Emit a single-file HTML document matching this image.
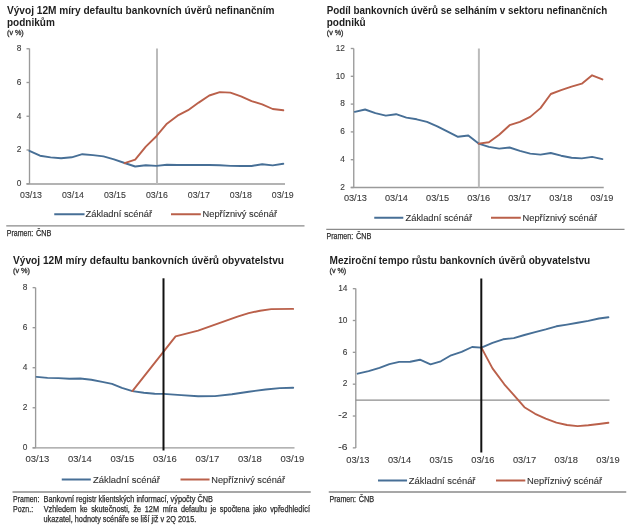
<!DOCTYPE html>
<html><head><meta charset="utf-8"><style>
html,body{margin:0;padding:0;background:#fff;width:640px;height:528px;overflow:hidden}
svg{display:block;font-family:"Liberation Sans",sans-serif;filter:blur(0.3px)}
</style></head><body>
<svg width="640" height="528" viewBox="0 0 640 528">
<rect width="640" height="528" fill="#fff"/>
<text x="7" y="13.8" font-size="10" font-weight="bold" fill="#1e1e1e" text-anchor="start" textLength="267.5" lengthAdjust="spacingAndGlyphs">Vývoj 12M míry defaultu bankovních úvěrů nefinančním</text>
<text x="7" y="25.6" font-size="10" font-weight="bold" fill="#1e1e1e" text-anchor="start">podnikům</text>
<text x="7" y="35" font-size="7.9" font-weight="normal" fill="#333" text-anchor="start" textLength="16.75" lengthAdjust="spacingAndGlyphs" stroke="#333" stroke-width="0.35">(v %)</text>
<line x1="29.5" y1="48.5" x2="29.5" y2="184" stroke="#9a9a9a" stroke-width="1.35"/>
<line x1="26.5" y1="48.75" x2="29.5" y2="48.75" stroke="#9a9a9a" stroke-width="1.35"/>
<text x="21.5" y="51.05" font-size="9.7" font-weight="normal" fill="#3a3a3a" text-anchor="end" textLength="4.64" lengthAdjust="spacingAndGlyphs" stroke="#3a3a3a" stroke-width="0.12">8</text>
<line x1="26.5" y1="82.5" x2="29.5" y2="82.5" stroke="#9a9a9a" stroke-width="1.35"/>
<text x="21.5" y="84.8" font-size="9.7" font-weight="normal" fill="#3a3a3a" text-anchor="end" textLength="4.64" lengthAdjust="spacingAndGlyphs" stroke="#3a3a3a" stroke-width="0.12">6</text>
<line x1="26.5" y1="116.25" x2="29.5" y2="116.25" stroke="#9a9a9a" stroke-width="1.35"/>
<text x="21.5" y="118.55" font-size="9.7" font-weight="normal" fill="#3a3a3a" text-anchor="end" textLength="4.64" lengthAdjust="spacingAndGlyphs" stroke="#3a3a3a" stroke-width="0.12">4</text>
<line x1="26.5" y1="150.0" x2="29.5" y2="150.0" stroke="#9a9a9a" stroke-width="1.35"/>
<text x="21.5" y="152.3" font-size="9.7" font-weight="normal" fill="#3a3a3a" text-anchor="end" textLength="4.64" lengthAdjust="spacingAndGlyphs" stroke="#3a3a3a" stroke-width="0.12">2</text>
<line x1="26.5" y1="183.75" x2="29.5" y2="183.75" stroke="#9a9a9a" stroke-width="1.35"/>
<text x="21.5" y="186.05" font-size="9.7" font-weight="normal" fill="#3a3a3a" text-anchor="end" textLength="4.64" lengthAdjust="spacingAndGlyphs" stroke="#3a3a3a" stroke-width="0.12">0</text>
<line x1="26.5" y1="184" x2="285" y2="184" stroke="#9a9a9a" stroke-width="1.35"/>
<text x="31.0" y="197.6" font-size="9.4" font-weight="normal" fill="#3a3a3a" text-anchor="middle" textLength="22" lengthAdjust="spacingAndGlyphs" stroke="#3a3a3a" stroke-width="0.12">03/13</text>
<text x="72.96000000000001" y="197.6" font-size="9.4" font-weight="normal" fill="#3a3a3a" text-anchor="middle" textLength="22" lengthAdjust="spacingAndGlyphs" stroke="#3a3a3a" stroke-width="0.12">03/14</text>
<text x="114.92" y="197.6" font-size="9.4" font-weight="normal" fill="#3a3a3a" text-anchor="middle" textLength="22" lengthAdjust="spacingAndGlyphs" stroke="#3a3a3a" stroke-width="0.12">03/15</text>
<text x="156.88" y="197.6" font-size="9.4" font-weight="normal" fill="#3a3a3a" text-anchor="middle" textLength="22" lengthAdjust="spacingAndGlyphs" stroke="#3a3a3a" stroke-width="0.12">03/16</text>
<text x="198.84" y="197.6" font-size="9.4" font-weight="normal" fill="#3a3a3a" text-anchor="middle" textLength="22" lengthAdjust="spacingAndGlyphs" stroke="#3a3a3a" stroke-width="0.12">03/17</text>
<text x="240.8" y="197.6" font-size="9.4" font-weight="normal" fill="#3a3a3a" text-anchor="middle" textLength="22" lengthAdjust="spacingAndGlyphs" stroke="#3a3a3a" stroke-width="0.12">03/18</text>
<text x="282.76" y="197.6" font-size="9.4" font-weight="normal" fill="#3a3a3a" text-anchor="middle" textLength="22" lengthAdjust="spacingAndGlyphs" stroke="#3a3a3a" stroke-width="0.12">03/19</text>
<line x1="157" y1="48.5" x2="157" y2="184" stroke="#bbbbbb" stroke-width="2"/>
<polyline points="29.4,150.8 40.0,155.7 50.6,157.4 61.1,158.3 71.7,157.3 82.3,154.2 92.9,155.1 103.5,156.4 114.0,159.3 124.6,163.0 135.2,166.5 145.8,165.2 156.4,165.9 166.9,164.8 177.5,165.0 188.1,165.0 198.7,165.0 209.3,165.0 219.8,165.2 230.4,165.9 241.0,166.0 251.6,166.0 262.2,164.2 272.7,165.4 283.3,163.8" fill="none" stroke="#476f96" stroke-width="1.9" stroke-linejoin="round" stroke-linecap="round"/>
<polyline points="124.6,163.2 135.2,159.6 145.8,146.6 156.4,136.2 166.9,123.7 177.5,115.7 188.1,110.2 198.7,102.6 209.3,95.5 219.8,92.1 230.4,92.6 241.0,96.3 251.6,101.1 262.2,104.4 272.7,109.0 283.3,110.3" fill="none" stroke="#ba604a" stroke-width="1.9" stroke-linejoin="round" stroke-linecap="round"/>
<line x1="54.25" y1="214.25" x2="84.55" y2="214.25" stroke="#476f96" stroke-width="2.0"/>
<text x="85.5" y="217.2" font-size="9.6" font-weight="normal" fill="#333" text-anchor="start" textLength="66.5" lengthAdjust="spacingAndGlyphs" stroke="#333" stroke-width="0.12">Základní scénář</text>
<line x1="171.0" y1="214.25" x2="200.8" y2="214.25" stroke="#ba604a" stroke-width="2.0"/>
<text x="202.5" y="217.2" font-size="9.6" font-weight="normal" fill="#333" text-anchor="start" textLength="74.5" lengthAdjust="spacingAndGlyphs" stroke="#333" stroke-width="0.12">Nepříznivý scénář</text>
<line x1="6.25" y1="225.8" x2="304.5" y2="225.8" stroke="#8a8a8a" stroke-width="1.3"/>
<text x="6.75" y="235.6" font-size="8.6" font-weight="normal" fill="#2c2c2c" text-anchor="start" textLength="26.5" lengthAdjust="spacingAndGlyphs" stroke="#2c2c2c" stroke-width="0.25">Pramen:</text>
<text x="36.1" y="235.6" font-size="8.6" font-weight="normal" fill="#2c2c2c" text-anchor="start" textLength="15.4" lengthAdjust="spacingAndGlyphs" stroke="#2c2c2c" stroke-width="0.25">ČNB</text>
<text x="326.75" y="13.8" font-size="10" font-weight="bold" fill="#1e1e1e" text-anchor="start" textLength="280.5" lengthAdjust="spacingAndGlyphs">Podíl bankovních úvěrů se selháním v sektoru nefinančních</text>
<text x="326.75" y="25.6" font-size="10" font-weight="bold" fill="#1e1e1e" text-anchor="start">podniků</text>
<text x="326.75" y="35" font-size="7.9" font-weight="normal" fill="#333" text-anchor="start" textLength="16.75" lengthAdjust="spacingAndGlyphs" stroke="#333" stroke-width="0.35">(v %)</text>
<line x1="353.75" y1="48.5" x2="353.75" y2="187.5" stroke="#9a9a9a" stroke-width="1.35"/>
<line x1="350.75" y1="48.5" x2="353.75" y2="48.5" stroke="#9a9a9a" stroke-width="1.35"/>
<text x="345" y="50.8" font-size="9.7" font-weight="normal" fill="#3a3a3a" text-anchor="end" textLength="9.28" lengthAdjust="spacingAndGlyphs" stroke="#3a3a3a" stroke-width="0.12">12</text>
<line x1="350.75" y1="76.3" x2="353.75" y2="76.3" stroke="#9a9a9a" stroke-width="1.35"/>
<text x="345" y="78.6" font-size="9.7" font-weight="normal" fill="#3a3a3a" text-anchor="end" textLength="9.28" lengthAdjust="spacingAndGlyphs" stroke="#3a3a3a" stroke-width="0.12">10</text>
<line x1="350.75" y1="104.1" x2="353.75" y2="104.1" stroke="#9a9a9a" stroke-width="1.35"/>
<text x="345" y="106.39999999999999" font-size="9.7" font-weight="normal" fill="#3a3a3a" text-anchor="end" textLength="4.64" lengthAdjust="spacingAndGlyphs" stroke="#3a3a3a" stroke-width="0.12">8</text>
<line x1="350.75" y1="131.9" x2="353.75" y2="131.9" stroke="#9a9a9a" stroke-width="1.35"/>
<text x="345" y="134.20000000000002" font-size="9.7" font-weight="normal" fill="#3a3a3a" text-anchor="end" textLength="4.64" lengthAdjust="spacingAndGlyphs" stroke="#3a3a3a" stroke-width="0.12">6</text>
<line x1="350.75" y1="159.7" x2="353.75" y2="159.7" stroke="#9a9a9a" stroke-width="1.35"/>
<text x="345" y="162.0" font-size="9.7" font-weight="normal" fill="#3a3a3a" text-anchor="end" textLength="4.64" lengthAdjust="spacingAndGlyphs" stroke="#3a3a3a" stroke-width="0.12">4</text>
<line x1="350.75" y1="187.5" x2="353.75" y2="187.5" stroke="#9a9a9a" stroke-width="1.35"/>
<text x="345" y="189.8" font-size="9.7" font-weight="normal" fill="#3a3a3a" text-anchor="end" textLength="4.64" lengthAdjust="spacingAndGlyphs" stroke="#3a3a3a" stroke-width="0.12">2</text>
<line x1="350.75" y1="187.5" x2="603.75" y2="187.5" stroke="#9a9a9a" stroke-width="1.35"/>
<text x="355.4" y="201.3" font-size="9.4" font-weight="normal" fill="#3a3a3a" text-anchor="middle" textLength="23" lengthAdjust="spacingAndGlyphs" stroke="#3a3a3a" stroke-width="0.12">03/13</text>
<text x="396.47999999999996" y="201.3" font-size="9.4" font-weight="normal" fill="#3a3a3a" text-anchor="middle" textLength="23" lengthAdjust="spacingAndGlyphs" stroke="#3a3a3a" stroke-width="0.12">03/14</text>
<text x="437.55999999999995" y="201.3" font-size="9.4" font-weight="normal" fill="#3a3a3a" text-anchor="middle" textLength="23" lengthAdjust="spacingAndGlyphs" stroke="#3a3a3a" stroke-width="0.12">03/15</text>
<text x="478.64" y="201.3" font-size="9.4" font-weight="normal" fill="#3a3a3a" text-anchor="middle" textLength="23" lengthAdjust="spacingAndGlyphs" stroke="#3a3a3a" stroke-width="0.12">03/16</text>
<text x="519.72" y="201.3" font-size="9.4" font-weight="normal" fill="#3a3a3a" text-anchor="middle" textLength="23" lengthAdjust="spacingAndGlyphs" stroke="#3a3a3a" stroke-width="0.12">03/17</text>
<text x="560.8" y="201.3" font-size="9.4" font-weight="normal" fill="#3a3a3a" text-anchor="middle" textLength="23" lengthAdjust="spacingAndGlyphs" stroke="#3a3a3a" stroke-width="0.12">03/18</text>
<text x="601.88" y="201.3" font-size="9.4" font-weight="normal" fill="#3a3a3a" text-anchor="middle" textLength="23" lengthAdjust="spacingAndGlyphs" stroke="#3a3a3a" stroke-width="0.12">03/19</text>
<line x1="478.9" y1="48.5" x2="478.9" y2="187.5" stroke="#bbbbbb" stroke-width="2"/>
<polyline points="354.8,111.9 365.1,109.5 375.4,113.1 385.8,115.6 396.1,114.2 406.4,117.6 416.7,119.3 427.0,121.9 437.3,126.3 447.7,131.6 458.0,136.8 468.3,135.5 478.6,143.6 488.9,146.9 499.2,148.6 509.6,147.5 519.9,150.8 530.2,153.6 540.5,154.6 550.8,153.0 561.1,155.7 571.5,157.8 581.8,158.4 592.1,156.9 602.4,159.1" fill="none" stroke="#476f96" stroke-width="1.9" stroke-linejoin="round" stroke-linecap="round"/>
<polyline points="478.6,143.6 488.9,142.3 499.2,134.8 509.6,125.2 519.9,121.8 530.2,116.9 540.5,108.1 550.8,94.0 561.1,90.2 571.5,86.7 581.8,83.7 592.1,75.3 602.4,79.4" fill="none" stroke="#ba604a" stroke-width="1.9" stroke-linejoin="round" stroke-linecap="round"/>
<line x1="374.25" y1="217.75" x2="403.3" y2="217.75" stroke="#476f96" stroke-width="2.0"/>
<text x="405.5" y="221" font-size="9.6" font-weight="normal" fill="#333" text-anchor="start" textLength="66.5" lengthAdjust="spacingAndGlyphs" stroke="#333" stroke-width="0.12">Základní scénář</text>
<line x1="491.0" y1="217.75" x2="520.8" y2="217.75" stroke="#ba604a" stroke-width="2.0"/>
<text x="522.5" y="221" font-size="9.6" font-weight="normal" fill="#333" text-anchor="start" textLength="74.5" lengthAdjust="spacingAndGlyphs" stroke="#333" stroke-width="0.12">Nepříznivý scénář</text>
<line x1="326.25" y1="229.4" x2="624.5" y2="229.4" stroke="#8a8a8a" stroke-width="1.3"/>
<text x="326.6" y="238.8" font-size="8.6" font-weight="normal" fill="#2c2c2c" text-anchor="start" textLength="26.5" lengthAdjust="spacingAndGlyphs" stroke="#2c2c2c" stroke-width="0.25">Pramen:</text>
<text x="355.95" y="238.8" font-size="8.6" font-weight="normal" fill="#2c2c2c" text-anchor="start" textLength="15.4" lengthAdjust="spacingAndGlyphs" stroke="#2c2c2c" stroke-width="0.25">ČNB</text>
<text x="13" y="263.8" font-size="10" font-weight="bold" fill="#1e1e1e" text-anchor="start" textLength="271" lengthAdjust="spacingAndGlyphs">Vývoj 12M míry defaultu bankovních úvěrů obyvatelstvu</text>
<text x="13" y="272.8" font-size="7.9" font-weight="normal" fill="#333" text-anchor="start" textLength="17" lengthAdjust="spacingAndGlyphs" stroke="#333" stroke-width="0.35">(v %)</text>
<line x1="35.6" y1="287.65" x2="35.6" y2="447.8" stroke="#9a9a9a" stroke-width="1.35"/>
<line x1="32.6" y1="287.64" x2="35.6" y2="287.64" stroke="#9a9a9a" stroke-width="1.35"/>
<text x="27.5" y="289.94" font-size="9.7" font-weight="normal" fill="#3a3a3a" text-anchor="end" textLength="4.64" lengthAdjust="spacingAndGlyphs" stroke="#3a3a3a" stroke-width="0.12">8</text>
<line x1="32.6" y1="327.68" x2="35.6" y2="327.68" stroke="#9a9a9a" stroke-width="1.35"/>
<text x="27.5" y="329.98" font-size="9.7" font-weight="normal" fill="#3a3a3a" text-anchor="end" textLength="4.64" lengthAdjust="spacingAndGlyphs" stroke="#3a3a3a" stroke-width="0.12">6</text>
<line x1="32.6" y1="367.72" x2="35.6" y2="367.72" stroke="#9a9a9a" stroke-width="1.35"/>
<text x="27.5" y="370.02000000000004" font-size="9.7" font-weight="normal" fill="#3a3a3a" text-anchor="end" textLength="4.64" lengthAdjust="spacingAndGlyphs" stroke="#3a3a3a" stroke-width="0.12">4</text>
<line x1="32.6" y1="407.76" x2="35.6" y2="407.76" stroke="#9a9a9a" stroke-width="1.35"/>
<text x="27.5" y="410.06" font-size="9.7" font-weight="normal" fill="#3a3a3a" text-anchor="end" textLength="4.64" lengthAdjust="spacingAndGlyphs" stroke="#3a3a3a" stroke-width="0.12">2</text>
<line x1="32.6" y1="447.8" x2="35.6" y2="447.8" stroke="#9a9a9a" stroke-width="1.35"/>
<text x="27.5" y="450.1" font-size="9.7" font-weight="normal" fill="#3a3a3a" text-anchor="end" textLength="4.64" lengthAdjust="spacingAndGlyphs" stroke="#3a3a3a" stroke-width="0.12">0</text>
<line x1="32.6" y1="447.8" x2="294.5" y2="447.8" stroke="#9a9a9a" stroke-width="1.35"/>
<text x="37.4" y="462" font-size="9.4" font-weight="normal" fill="#3a3a3a" text-anchor="middle" textLength="23.7" lengthAdjust="spacingAndGlyphs" stroke="#3a3a3a" stroke-width="0.12">03/13</text>
<text x="79.9" y="462" font-size="9.4" font-weight="normal" fill="#3a3a3a" text-anchor="middle" textLength="23.7" lengthAdjust="spacingAndGlyphs" stroke="#3a3a3a" stroke-width="0.12">03/14</text>
<text x="122.4" y="462" font-size="9.4" font-weight="normal" fill="#3a3a3a" text-anchor="middle" textLength="23.7" lengthAdjust="spacingAndGlyphs" stroke="#3a3a3a" stroke-width="0.12">03/15</text>
<text x="164.9" y="462" font-size="9.4" font-weight="normal" fill="#3a3a3a" text-anchor="middle" textLength="23.7" lengthAdjust="spacingAndGlyphs" stroke="#3a3a3a" stroke-width="0.12">03/16</text>
<text x="207.4" y="462" font-size="9.4" font-weight="normal" fill="#3a3a3a" text-anchor="middle" textLength="23.7" lengthAdjust="spacingAndGlyphs" stroke="#3a3a3a" stroke-width="0.12">03/17</text>
<text x="249.9" y="462" font-size="9.4" font-weight="normal" fill="#3a3a3a" text-anchor="middle" textLength="23.7" lengthAdjust="spacingAndGlyphs" stroke="#3a3a3a" stroke-width="0.12">03/18</text>
<text x="292.4" y="462" font-size="9.4" font-weight="normal" fill="#3a3a3a" text-anchor="middle" textLength="23.7" lengthAdjust="spacingAndGlyphs" stroke="#3a3a3a" stroke-width="0.12">03/19</text>
<polyline points="36.6,376.9 47.5,377.9 58.4,378.1 69.4,378.7 80.3,378.5 91.3,379.7 102.2,381.9 112.0,383.9 121.9,387.9 132.4,391.1 143.8,392.7 154.7,393.7 163.5,393.9 181.2,395.1 198.1,396.3 215.0,396.1 231.9,394.3 248.7,391.7 265.6,389.5 279.7,388.1 293.2,387.7" fill="none" stroke="#476f96" stroke-width="1.9" stroke-linejoin="round" stroke-linecap="round"/>
<polyline points="132.4,391.1 175.6,336.3 198.1,330.7 217.8,323.7 237.5,316.7 248.7,313.1 260.0,310.7 271.2,309.1 293.2,308.9" fill="none" stroke="#ba604a" stroke-width="1.9" stroke-linejoin="round" stroke-linecap="round"/>
<line x1="163.5" y1="278.3" x2="163.5" y2="450.5" stroke="#111111" stroke-width="2"/>
<line x1="61.75" y1="479.5" x2="90.8" y2="479.5" stroke="#476f96" stroke-width="2.0"/>
<text x="93" y="483" font-size="9.6" font-weight="normal" fill="#333" text-anchor="start" textLength="67" lengthAdjust="spacingAndGlyphs" stroke="#333" stroke-width="0.12">Základní scénář</text>
<line x1="180.5" y1="479.5" x2="209.55" y2="479.5" stroke="#ba604a" stroke-width="2.0"/>
<text x="211.25" y="483" font-size="9.6" font-weight="normal" fill="#333" text-anchor="start" textLength="73.75" lengthAdjust="spacingAndGlyphs" stroke="#333" stroke-width="0.12">Nepříznivý scénář</text>
<line x1="12.5" y1="492" x2="310.75" y2="492" stroke="#8a8a8a" stroke-width="1.3"/>
<text x="13.1" y="501.6" font-size="8.6" font-weight="normal" fill="#2c2c2c" text-anchor="start" textLength="26.3" lengthAdjust="spacingAndGlyphs" stroke="#2c2c2c" stroke-width="0.25">Pramen:</text>
<text x="43.5" y="501.6" font-size="8.6" font-weight="normal" fill="#2c2c2c" text-anchor="start" textLength="169.5" lengthAdjust="spacingAndGlyphs" stroke="#2c2c2c" stroke-width="0.25">Bankovní registr klientských informací, výpočty ČNB</text>
<text x="13.1" y="511.5" font-size="8.6" font-weight="normal" fill="#2c2c2c" text-anchor="start" textLength="20" lengthAdjust="spacingAndGlyphs" stroke="#2c2c2c" stroke-width="0.25">Pozn.:</text>
<text x="43.75" y="511.5" font-size="8.4" font-weight="normal" fill="#2c2c2c" text-anchor="start" textLength="32.5" lengthAdjust="spacingAndGlyphs" stroke="#2c2c2c" stroke-width="0.25">Vzhledem</text>
<text x="79.88" y="511.5" font-size="8.4" font-weight="normal" fill="#2c2c2c" text-anchor="start" textLength="7.72" lengthAdjust="spacingAndGlyphs" stroke="#2c2c2c" stroke-width="0.25">ke</text>
<text x="91.23" y="511.5" font-size="8.4" font-weight="normal" fill="#2c2c2c" text-anchor="start" textLength="38.59" lengthAdjust="spacingAndGlyphs" stroke="#2c2c2c" stroke-width="0.25">skutečnosti,</text>
<text x="133.45" y="511.5" font-size="8.4" font-weight="normal" fill="#2c2c2c" text-anchor="start" textLength="7.72" lengthAdjust="spacingAndGlyphs" stroke="#2c2c2c" stroke-width="0.25">že</text>
<text x="144.8" y="511.5" font-size="8.4" font-weight="normal" fill="#2c2c2c" text-anchor="start" textLength="14.22" lengthAdjust="spacingAndGlyphs" stroke="#2c2c2c" stroke-width="0.25">12M</text>
<text x="162.65" y="511.5" font-size="8.4" font-weight="normal" fill="#2c2c2c" text-anchor="start" textLength="14.61" lengthAdjust="spacingAndGlyphs" stroke="#2c2c2c" stroke-width="0.25">míra</text>
<text x="180.9" y="511.5" font-size="8.4" font-weight="normal" fill="#2c2c2c" text-anchor="start" textLength="26.0" lengthAdjust="spacingAndGlyphs" stroke="#2c2c2c" stroke-width="0.25">defaultu</text>
<text x="210.54" y="511.5" font-size="8.4" font-weight="normal" fill="#2c2c2c" text-anchor="start" textLength="5.69" lengthAdjust="spacingAndGlyphs" stroke="#2c2c2c" stroke-width="0.25">je</text>
<text x="219.86" y="511.5" font-size="8.4" font-weight="normal" fill="#2c2c2c" text-anchor="start" textLength="29.66" lengthAdjust="spacingAndGlyphs" stroke="#2c2c2c" stroke-width="0.25">spočtena</text>
<text x="253.15" y="511.5" font-size="8.4" font-weight="normal" fill="#2c2c2c" text-anchor="start" textLength="13.41" lengthAdjust="spacingAndGlyphs" stroke="#2c2c2c" stroke-width="0.25">jako</text>
<text x="270.19" y="511.5" font-size="8.4" font-weight="normal" fill="#2c2c2c" text-anchor="start" textLength="39.81" lengthAdjust="spacingAndGlyphs" stroke="#2c2c2c" stroke-width="0.25">vpředhledící</text>
<text x="43.5" y="521.5" font-size="8.6" font-weight="normal" fill="#2c2c2c" text-anchor="start" textLength="152.75" lengthAdjust="spacingAndGlyphs" stroke="#2c2c2c" stroke-width="0.25">ukazatel, hodnoty scénáře se liší již v 2Q 2015.</text>
<text x="329.5" y="264.25" font-size="10" font-weight="bold" fill="#1e1e1e" text-anchor="start" textLength="260.75" lengthAdjust="spacingAndGlyphs">Meziroční tempo růstu bankovních úvěrů obyvatelstvu</text>
<text x="329.5" y="273.2" font-size="7.9" font-weight="normal" fill="#333" text-anchor="start" textLength="16.75" lengthAdjust="spacingAndGlyphs" stroke="#333" stroke-width="0.35">(v %)</text>
<line x1="355.8" y1="288.6" x2="355.8" y2="447.9" stroke="#9a9a9a" stroke-width="1.35"/>
<line x1="352.8" y1="288.66" x2="355.8" y2="288.66" stroke="#9a9a9a" stroke-width="1.35"/>
<text x="347.5" y="290.96000000000004" font-size="9.7" font-weight="normal" fill="#3a3a3a" text-anchor="end" textLength="9.28" lengthAdjust="spacingAndGlyphs" stroke="#3a3a3a" stroke-width="0.12">14</text>
<line x1="352.8" y1="320.5" x2="355.8" y2="320.5" stroke="#9a9a9a" stroke-width="1.35"/>
<text x="347.5" y="322.8" font-size="9.7" font-weight="normal" fill="#3a3a3a" text-anchor="end" textLength="9.28" lengthAdjust="spacingAndGlyphs" stroke="#3a3a3a" stroke-width="0.12">10</text>
<line x1="352.8" y1="352.34000000000003" x2="355.8" y2="352.34000000000003" stroke="#9a9a9a" stroke-width="1.35"/>
<text x="347.5" y="354.64000000000004" font-size="9.7" font-weight="normal" fill="#3a3a3a" text-anchor="end" textLength="4.64" lengthAdjust="spacingAndGlyphs" stroke="#3a3a3a" stroke-width="0.12">6</text>
<line x1="352.8" y1="384.18" x2="355.8" y2="384.18" stroke="#9a9a9a" stroke-width="1.35"/>
<text x="347.5" y="386.48" font-size="9.7" font-weight="normal" fill="#3a3a3a" text-anchor="end" textLength="4.64" lengthAdjust="spacingAndGlyphs" stroke="#3a3a3a" stroke-width="0.12">2</text>
<line x1="352.8" y1="416.02000000000004" x2="355.8" y2="416.02000000000004" stroke="#9a9a9a" stroke-width="1.35"/>
<text x="347.5" y="418.32000000000005" font-size="9.7" font-weight="normal" fill="#3a3a3a" text-anchor="end" textLength="9.2" lengthAdjust="spacingAndGlyphs" stroke="#3a3a3a" stroke-width="0.12">-2</text>
<line x1="352.8" y1="447.86" x2="355.8" y2="447.86" stroke="#9a9a9a" stroke-width="1.35"/>
<text x="347.5" y="450.16" font-size="9.7" font-weight="normal" fill="#3a3a3a" text-anchor="end" textLength="9.2" lengthAdjust="spacingAndGlyphs" stroke="#3a3a3a" stroke-width="0.12">-6</text>
<line x1="355.8" y1="400.1" x2="609.5" y2="400.1" stroke="#8c8c8c" stroke-width="1.2"/>
<text x="357.9" y="463" font-size="9.4" font-weight="normal" fill="#3a3a3a" text-anchor="middle" textLength="23.3" lengthAdjust="spacingAndGlyphs" stroke="#3a3a3a" stroke-width="0.12">03/13</text>
<text x="399.57" y="463" font-size="9.4" font-weight="normal" fill="#3a3a3a" text-anchor="middle" textLength="23.3" lengthAdjust="spacingAndGlyphs" stroke="#3a3a3a" stroke-width="0.12">03/14</text>
<text x="441.24" y="463" font-size="9.4" font-weight="normal" fill="#3a3a3a" text-anchor="middle" textLength="23.3" lengthAdjust="spacingAndGlyphs" stroke="#3a3a3a" stroke-width="0.12">03/15</text>
<text x="482.90999999999997" y="463" font-size="9.4" font-weight="normal" fill="#3a3a3a" text-anchor="middle" textLength="23.3" lengthAdjust="spacingAndGlyphs" stroke="#3a3a3a" stroke-width="0.12">03/16</text>
<text x="524.5799999999999" y="463" font-size="9.4" font-weight="normal" fill="#3a3a3a" text-anchor="middle" textLength="23.3" lengthAdjust="spacingAndGlyphs" stroke="#3a3a3a" stroke-width="0.12">03/17</text>
<text x="566.25" y="463" font-size="9.4" font-weight="normal" fill="#3a3a3a" text-anchor="middle" textLength="23.3" lengthAdjust="spacingAndGlyphs" stroke="#3a3a3a" stroke-width="0.12">03/18</text>
<text x="607.92" y="463" font-size="9.4" font-weight="normal" fill="#3a3a3a" text-anchor="middle" textLength="23.3" lengthAdjust="spacingAndGlyphs" stroke="#3a3a3a" stroke-width="0.12">03/19</text>
<polyline points="357.7,373.7 368.6,371.1 379.5,367.8 389.4,364.1 399.2,361.9 410.2,361.7 420.0,359.7 430.5,364.3 440.8,361.3 451.1,355.3 461.6,351.8 472.1,347.0 481.4,347.6 492.5,342.9 503.1,339.3 513.8,338.1 524.4,335.0 535.1,332.2 545.7,329.4 556.4,326.3 567.0,324.6 577.6,322.7 588.3,320.9 598.9,318.5 608.4,317.3" fill="none" stroke="#476f96" stroke-width="1.9" stroke-linejoin="round" stroke-linecap="round"/>
<polyline points="481.4,347.6 492.5,368.4 504.3,384.3 516.1,397.7 524.4,407.2 535.1,413.8 545.7,418.6 556.4,422.6 567.0,425.0 577.6,426.1 588.3,425.2 598.9,424.0 608.4,422.8" fill="none" stroke="#ba604a" stroke-width="1.9" stroke-linejoin="round" stroke-linecap="round"/>
<line x1="481.3" y1="278.5" x2="481.3" y2="452.5" stroke="#111111" stroke-width="2"/>
<line x1="378.0" y1="480.5" x2="407.05" y2="480.5" stroke="#476f96" stroke-width="2.0"/>
<text x="408.75" y="484" font-size="9.6" font-weight="normal" fill="#333" text-anchor="start" textLength="66.75" lengthAdjust="spacingAndGlyphs" stroke="#333" stroke-width="0.12">Základní scénář</text>
<line x1="496.0" y1="480.5" x2="525.3" y2="480.5" stroke="#ba604a" stroke-width="2.0"/>
<text x="527" y="484" font-size="9.6" font-weight="normal" fill="#333" text-anchor="start" textLength="75" lengthAdjust="spacingAndGlyphs" stroke="#333" stroke-width="0.12">Nepříznivý scénář</text>
<line x1="328.75" y1="492" x2="626.25" y2="492" stroke="#8a8a8a" stroke-width="1.3"/>
<text x="329.5" y="502" font-size="8.6" font-weight="normal" fill="#2c2c2c" text-anchor="start" textLength="26.5" lengthAdjust="spacingAndGlyphs" stroke="#2c2c2c" stroke-width="0.25">Pramen:</text>
<text x="358.85" y="502" font-size="8.6" font-weight="normal" fill="#2c2c2c" text-anchor="start" textLength="15.4" lengthAdjust="spacingAndGlyphs" stroke="#2c2c2c" stroke-width="0.25">ČNB</text>
</svg></body></html>
